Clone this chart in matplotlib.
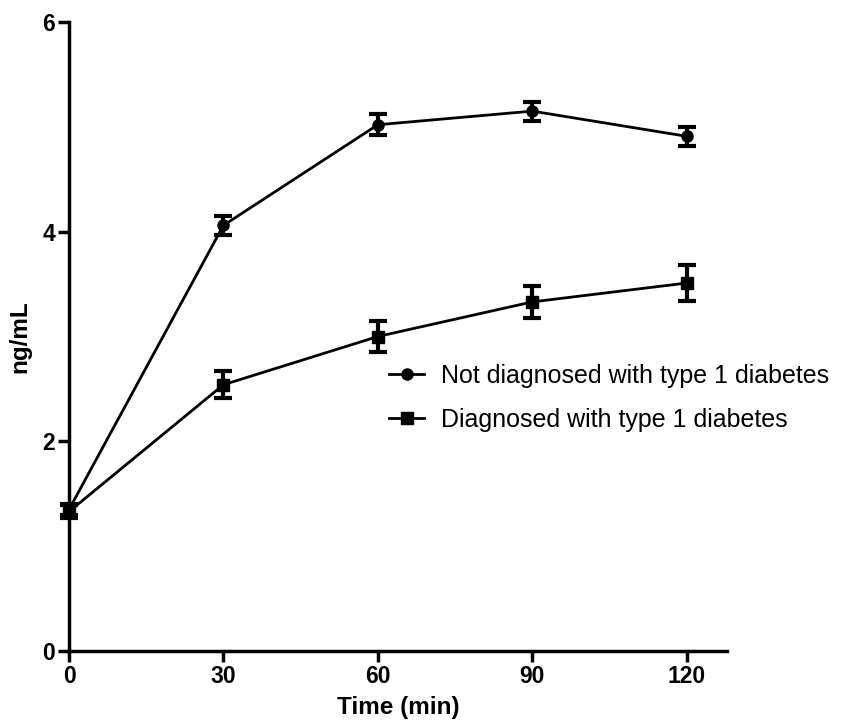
import matplotlib
matplotlib.use("Agg")
import matplotlib.pyplot as plt
from matplotlib.lines import Line2D

plt.rcParams['font.family'] = ['Liberation Sans', 'DejaVu Sans']

time = [0, 30, 60, 90, 120]
not_diag = [1.35, 4.06, 5.02, 5.15, 4.91]
not_diag_err = [0.05, 0.09, 0.10, 0.09, 0.09]
diag = [1.33, 2.54, 3.00, 3.33, 3.51]
diag_err = [0.06, 0.13, 0.15, 0.15, 0.17]
labels = ["Not diagnosed with type 1 diabetes", "Diagnosed with type 1 diabetes"]

fig = plt.figure(figsize=(8.46, 7.24), dpi=100)
ax = fig.add_axes([0.0816, 0.1008, 0.7774, 0.8688])

ax.errorbar(time, not_diag, yerr=not_diag_err, color='black', marker='o', markersize=8,
            linewidth=2, elinewidth=3, capsize=6.5, capthick=3, clip_on=False)
ax.errorbar(time, diag, yerr=diag_err, color='black', marker='s', markersize=8,
            linewidth=2, elinewidth=3, capsize=6.5, capthick=3, clip_on=False)

ax.set_xlim(0, 127.8)
ax.set_ylim(0, 6)
ax.set_xticks(time)
ax.set_yticks([0, 2, 4, 6])
for s in ['top', 'right']:
    ax.spines[s].set_visible(False)
for s in ['left', 'bottom']:
    ax.spines[s].set_linewidth(2.5)
ax.tick_params(direction='out', length=8, width=2.5, labelsize=16.5, pad=2)
for lab in ax.get_xticklabels() + ax.get_yticklabels():
    lab.set_fontweight('bold')
ax.set_xlabel("Time (min)", fontsize=17.5, fontweight='bold', labelpad=6)
ax.set_ylabel("ng/mL", fontsize=17.5, fontweight='bold', labelpad=8)

handles = [Line2D([], [], color='black', marker='o', markersize=8, linewidth=2),
           Line2D([], [], color='black', marker='s', markersize=8, linewidth=2)]
leg = fig.legend(handles, labels, loc='upper left', bbox_to_anchor=(0.448, 0.511),
                 bbox_transform=fig.transFigure, borderaxespad=0, frameon=False, fontsize=18,
                 handlelength=1.4, labelspacing=0.8, handletextpad=0.68)

fig.savefig("out.png", dpi=100)
